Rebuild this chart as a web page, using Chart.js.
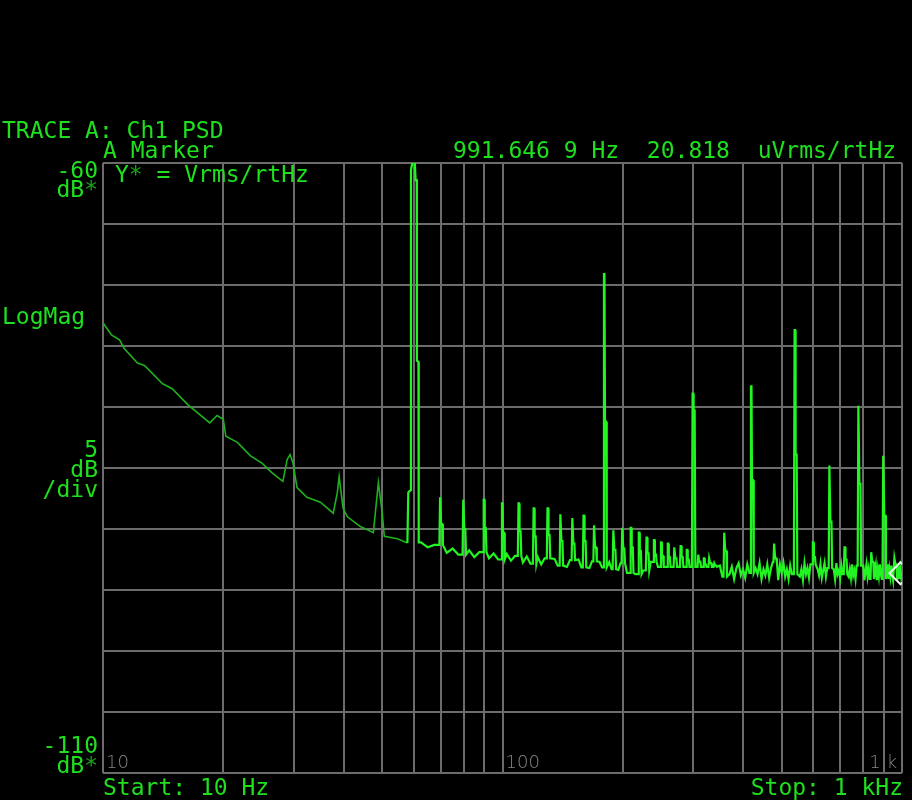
<!DOCTYPE html>
<html>
<head>
<meta charset="utf-8">
<title>TRACE A: Ch1 PSD</title>
<script src="https://cdn.jsdelivr.net/npm/chart.js@4.4.1/dist/chart.umd.min.js"></script>
<style>
    html, body { margin: 0; padding: 0; background: #000; }
    #psd { display: block; }
</style>
</head>
<body>
<canvas id="psd" width="912" height="800"></canvas>
<script>
// axis ranges and grid (Hz, dB)
const xMinHz = 10;
const xMaxHz = 1000;
const yMinDb = -110;
const yMaxDb = -60;
const yStepDb = 5;
const xGridHz = [10, 20, 30, 40, 50, 60, 70, 80, 90, 100, 200, 300, 400, 500, 600, 700, 800, 900, 1000];

// low-frequency slope, 10..58 Hz
const lowHz = [10, 10.5, 11.0, 11.3, 12.2, 12.7, 14.1, 14.9, 16.3, 18.5, 19.3, 20.0, 20.3, 21.7, 23.4, 25.0,
    26.5, 28.2, 28.9, 29.4, 29.9, 30.6, 32.4, 35.0, 37.7, 38.6, 39.0, 39.9, 40.9, 44.1, 47.5, 48.9, 50.0, 50.6, 54.6, 57.8];
const lowDb = [-73.1, -74.1, -74.5, -75.2, -76.4, -76.6, -78.1, -78.5, -79.8, -81.3, -80.7, -81.0, -82.4, -82.9, -84.0, -84.6,
    -85.4, -86.1, -84.3, -83.9, -84.6, -86.6, -87.4, -87.8, -88.7, -87.0, -85.7, -88.3, -89.0, -89.8, -90.3, -86.2, -88.7, -90.6, -90.8, -91.15];

// 60 Hz mains line
const mainHz = [58.1, 58.9, 59.0, 59.6, 60.3, 60.6, 61.0, 61.05, 61.6, 61.7];
const mainDb = [-87.0, -86.8, -60.6, -59.8, -59.8, -61.4, -61.4, -76.2, -76.3, -91.1];

// harmonics above the mains line
const harmHz = [70, 80, 90, 100, 110, 120, 130, 140, 150, 160, 170, 180, 190, 200, 210, 220, 230, 240, 250, 260,
    270, 280, 290, 300, 310, 320, 330, 340, 360, 420, 480, 540, 600, 660, 720, 780, 840, 900, 960];
const harmTopDb = [-87.4, -87.6, -87.6, -87.9, -87.9, -88.3, -88.3, -88.8, -89.1, -88.9, -89.7, -69.1, -90.1, -89.9, -89.9, -90.3, -90.7, -90.9, -91.1, -91.2,
    -91.5, -91.4, -91.7, -78.9, -92.1, -92.4, -92.4, -92.8, -90.3, -78.3, -91.2, -73.7, -91.1, -84.8, -91.5, -79.9, -91.9, -84.0, -92.4];
const harmStepDb = [-89.6, -90.0, -89.9, -90.3, -90.2, -90.6, -90.5, -91.0, -91.2, -91.0, -91.5, -81.2, -91.7, -91.6, -91.5, -91.8, -92.0, -92.1, -92.2, -92.3,
    -92.4, -92.3, -92.5, -80.3, -92.7, -92.9, -92.8, -93.0, -91.8, -86.0, -92.4, -83.9, -92.3, -89.4, -92.5, -86.3, -92.7, -88.9, -92.9];

// noise floor
const floorHz = [
    62.5, 65, 67.5, 70, 72.5, 75, 77.5, 80, 82.5, 85, 87.5, 90, 92.5, 95, 97.5, 100, 102.5, 105, 107.5, 110,
    112.5, 115, 117.5, 120, 122.5, 125, 127.5, 130, 132.5, 135, 137.5, 140, 142.5, 145, 147.5, 150, 152.5, 155, 157.5, 160,
    162.5, 165, 167.5, 170, 172.5, 175, 177.5, 180, 182.5, 185, 187.5, 190, 192.5, 195, 197.5,
    200, 205, 210, 215, 220, 225, 230, 235, 240, 245, 250, 255, 260, 265, 270, 275, 280, 285, 290, 295,
    300, 305, 310, 315, 320, 325, 330, 335, 340, 345, 350, 355, 360, 365, 370, 375, 380, 385, 390, 395,
    400, 405, 410, 415, 420, 425, 430, 435, 440, 445, 450, 455, 460, 465, 470, 475, 480, 485, 490, 495,
    500, 505, 510, 515, 520, 525, 530, 535, 540, 545, 550, 555, 560, 565, 570, 575, 580, 585, 590, 595,
    600, 605, 610, 615, 620, 625, 630, 635, 640, 645, 650, 655, 660, 665, 670, 675, 680, 685, 690, 695,
    700, 705, 710, 715, 720, 725, 730, 735, 740, 745, 750, 755, 760, 765, 770, 775, 780, 785, 790, 795,
    800, 805, 810, 815, 820, 825, 830, 835, 840, 845, 850, 855, 860, 865, 870, 875, 880, 885, 890, 895,
    900, 905, 910, 915, 920, 925, 930, 935, 940, 945, 950, 955, 960, 965, 970, 975, 980, 985, 990, 995, 1000
];
const floorDb = [
    -91.1, -91.5, -91.3, -91.6, -91.95, -91.6, -92.1, -91.9, -91.75, -92.3, -91.9, -92.1, -92.4, -92.0, -92.5, -92.2, -92.05, -92.6, -92.2, -92.4,
    -92.75, -92.25, -92.85, -92.5, -92.3, -92.9, -92.4, -92.6, -92.95, -92.45, -93.0, -92.7, -92.5, -93.1, -92.55, -92.8, -93.05, -92.5, -93.15, -92.8,
    -92.6, -93.2, -92.65, -92.9, -93.25, -92.7, -93.15, -93.0, -93.1, -92.7, -93.3, -93.0, -92.75, -93.35, -92.8,
    -93.0, -93.6, -92.7, -93.7, -92.8, -93.4, -93.9, -92.7, -93.5, -93.1,
    -93.8, -92.8, -93.6, -93.0, -94.0, -92.7, -93.4, -93.7, -92.8, -93.6,
    -93.2, -93.9, -92.8, -93.5, -93.0, -94.0, -93.2, -92.7, -93.8, -93.3,
    -93.0, -93.9, -93.4, -92.8, -93.7, -93.1, -94.1, -93.2, -92.8, -93.8,
    -93.3, -94.0, -92.9, -93.6, -92.7, -93.9, -93.2, -93.7, -92.8, -94.1,
    -93.3, -93.8, -92.9, -94.0, -93.2, -92.7, -93.7, -93.4, -94.2, -92.9,
    -93.6, -92.8, -93.9, -93.3, -94.1, -93.0, -93.7, -92.8, -94.0, -93.4,
    -92.9, -93.9, -93.3, -94.2, -92.8, -93.7, -93.2, -94.0, -92.9, -93.8,
    -93.4, -92.8, -94.1, -93.3, -93.8, -92.9, -94.0, -93.4, -92.8, -93.9,
    -93.2, -94.2, -93.5, -92.9, -93.9, -93.3, -94.1, -92.8, -93.7, -93.4,
    -94.0, -93.0, -93.7, -92.9, -94.2, -93.4, -92.8, -93.9, -93.3, -94.0,
    -92.9, -93.8, -93.4, -94.1, -93.0, -93.7, -92.8, -94.0, -93.3, -93.9,
    -93.0, -94.2, -93.5, -92.9, -93.9, -93.3, -94.1, -93.2, -93.8, -92.9,
    -94.0, -93.4, -93.0, -94.2, -93.3, -93.9, -92.9, -93.7, -94.1, -93.2,
    -93.8, -93.0, -94.0, -93.4, -92.9, -94.1, -93.3, -93.9, -93.0, -93.7,
    -94.2, -93.2, -93.8, -92.9, -94.0, -93.4, -93.0, -94.1, -93.3, -93.9, -93.5
];

// marker readout
const markerHz = 991.6469;
const markerDb = -93.63;

const GREEN = '#1fe01f';
const DARK_GREEN = '#17a317';
const TRACE_BRIGHT = '#22f522';
const TRACE_DIM = '#1eb01e';
const GRID = '#6c6c6c';
const TICK_GREY = '#858585';
const MONO = '23px "DejaVu Sans Mono", "Liberation Mono", monospace';

function buildTrace() {
    const points = lowHz.map((hz, i) => ({ x: hz, y: lowDb[i] }));
    mainHz.forEach((hz, i) => points.push({ x: hz, y: mainDb[i] }));

    const nearHarmonic = (hz) => harmHz.some((h) => hz >= h * 0.99 && hz <= h * 1.02);
    const floor = floorHz
        .map((hz, i) => ({ x: hz, y: floorDb[i] }))
        .filter((p) => !nearHarmonic(p.x));

    const rest = [...floor];
    harmHz.forEach((hz, i) => {
        const before = floor.filter((p) => p.x < hz).pop();
        const base = before ? before.y : floorDb[0];
        rest.push({ x: hz * 0.993, y: base });
        rest.push({ x: hz * 0.997, y: harmTopDb[i] });
        rest.push({ x: hz * 1.0, y: harmTopDb[i] });
        rest.push({ x: hz * 1.003, y: harmStepDb[i] });
        rest.push({ x: hz * 1.009, y: harmStepDb[i] });
        rest.push({ x: hz * 1.013, y: base });
    });
    rest.sort((a, b) => a.x - b.x);
    return points.concat(rest);
}

function yTicks() {
    const ticks = [];
    for (let v = yMinDb; v <= yMaxDb; v += yStepDb) {
        ticks.push({ value: v });
    }
    return ticks;
}

const annotations = {
    id: 'annotations',
    afterDraw(chart) {
        const ctx = chart.ctx;
        const area = chart.chartArea;
        ctx.save();
        ctx.textBaseline = 'alphabetic';
        ctx.font = MONO;

        const text = (str, x, y, align = 'left', color = GREEN) => {
            ctx.fillStyle = color;
            ctx.textAlign = align;
            ctx.fillText(str, x, y);
        };
        const charW = ctx.measureText('0').width;

        text('TRACE A: Ch1 PSD', 2, 138);
        text('A Marker', area.left, 158);
        text('991.646 9 Hz  20.818  uVrms/rtHz', 453, 158);

        text('-60', area.left - 5, 178, 'right');
        text('dB', area.left - 5 - charW, 197, 'right');
        text('*', area.left - 5, 197, 'right', DARK_GREEN);

        text('Y', area.left + 12, 182);
        text('*', area.left + 12 + charW, 182, 'left', DARK_GREEN);
        text('= Vrms/rtHz', area.left + 12 + charW * 3, 182);

        text('LogMag', 2, 324);
        text('5', area.left - 5, 457, 'right');
        text('dB', area.left - 5, 477, 'right');
        text('/div', area.left - 5, 497, 'right');

        text('-110', area.left - 5, 753, 'right');
        text('dB', area.left - 5 - charW, 773, 'right');
        text('*', area.left - 5, 773, 'right', DARK_GREEN);

        text('Start: 10 Hz', area.left, 795);
        text('Stop: 1 kHz', 903, 795, 'right');

        // frequency labels inside the plot
        const xs = chart.scales.x;
        ctx.font = '300 18px "DejaVu Sans", sans-serif';
        text('10', xs.getPixelForValue(10) + 3, 768, 'left', TICK_GREY);
        text('100', xs.getPixelForValue(100) + 3, 768, 'left', TICK_GREY);
        text('1', xs.getPixelForValue(900) - 3, 768, 'right', TICK_GREY);
        text('k', xs.getPixelForValue(900) + 3, 768, 'left', TICK_GREY);
        ctx.restore();
    },
};

const canvas = document.getElementById('psd');
new Chart(canvas, {
    type: 'line',
    data: {
        datasets: [
            {
                data: buildTrace(),
                order: 1,
                borderColor: TRACE_BRIGHT,
                borderWidth: 2.2,
                pointRadius: 0,
                tension: 0,
                segment: {
                    borderColor: (c) => (c.p0.parsed.x < 57 ? TRACE_DIM : TRACE_BRIGHT),
                    borderWidth: (c) => (c.p0.parsed.x < 57 ? 1.6 : 2.2),
                },
            },
            {
                data: [{ x: markerHz, y: markerDb }],
                order: 0,
                showLine: false,
                pointStyle: 'rectRot',
                pointRadius: 11,
                pointBorderColor: '#f0f0f0',
                pointBorderWidth: 2,
                pointBackgroundColor: 'rgba(0,0,0,0)',
            },
        ],
    },
    options: {
        responsive: false,
        animation: false,
        devicePixelRatio: 1,
        layout: {
            autoPadding: false,
            padding: { left: 103, top: 163, right: 10, bottom: 27 },
        },
        plugins: {
            legend: { display: false },
            tooltip: { enabled: false },
        },
        scales: {
            x: {
                type: 'logarithmic',
                min: xMinHz,
                max: xMaxHz,
                afterBuildTicks: (scale) => {
                    scale.ticks = xGridHz.map((v) => ({ value: v }));
                },
                afterFit: (scale) => {
                    scale.height = 0;
                },
                ticks: { display: false },
                grid: { color: GRID, lineWidth: 2, drawTicks: false },
                border: { display: false },
            },
            y: {
                type: 'linear',
                min: yMinDb,
                max: yMaxDb,
                afterBuildTicks: (scale) => {
                    scale.ticks = yTicks();
                },
                afterFit: (scale) => {
                    scale.width = 0;
                },
                ticks: { display: false },
                grid: { color: GRID, lineWidth: 2, drawTicks: false },
                border: { display: false },
            },
        },
    },
    plugins: [annotations],
});
</script>
</body>
</html>
